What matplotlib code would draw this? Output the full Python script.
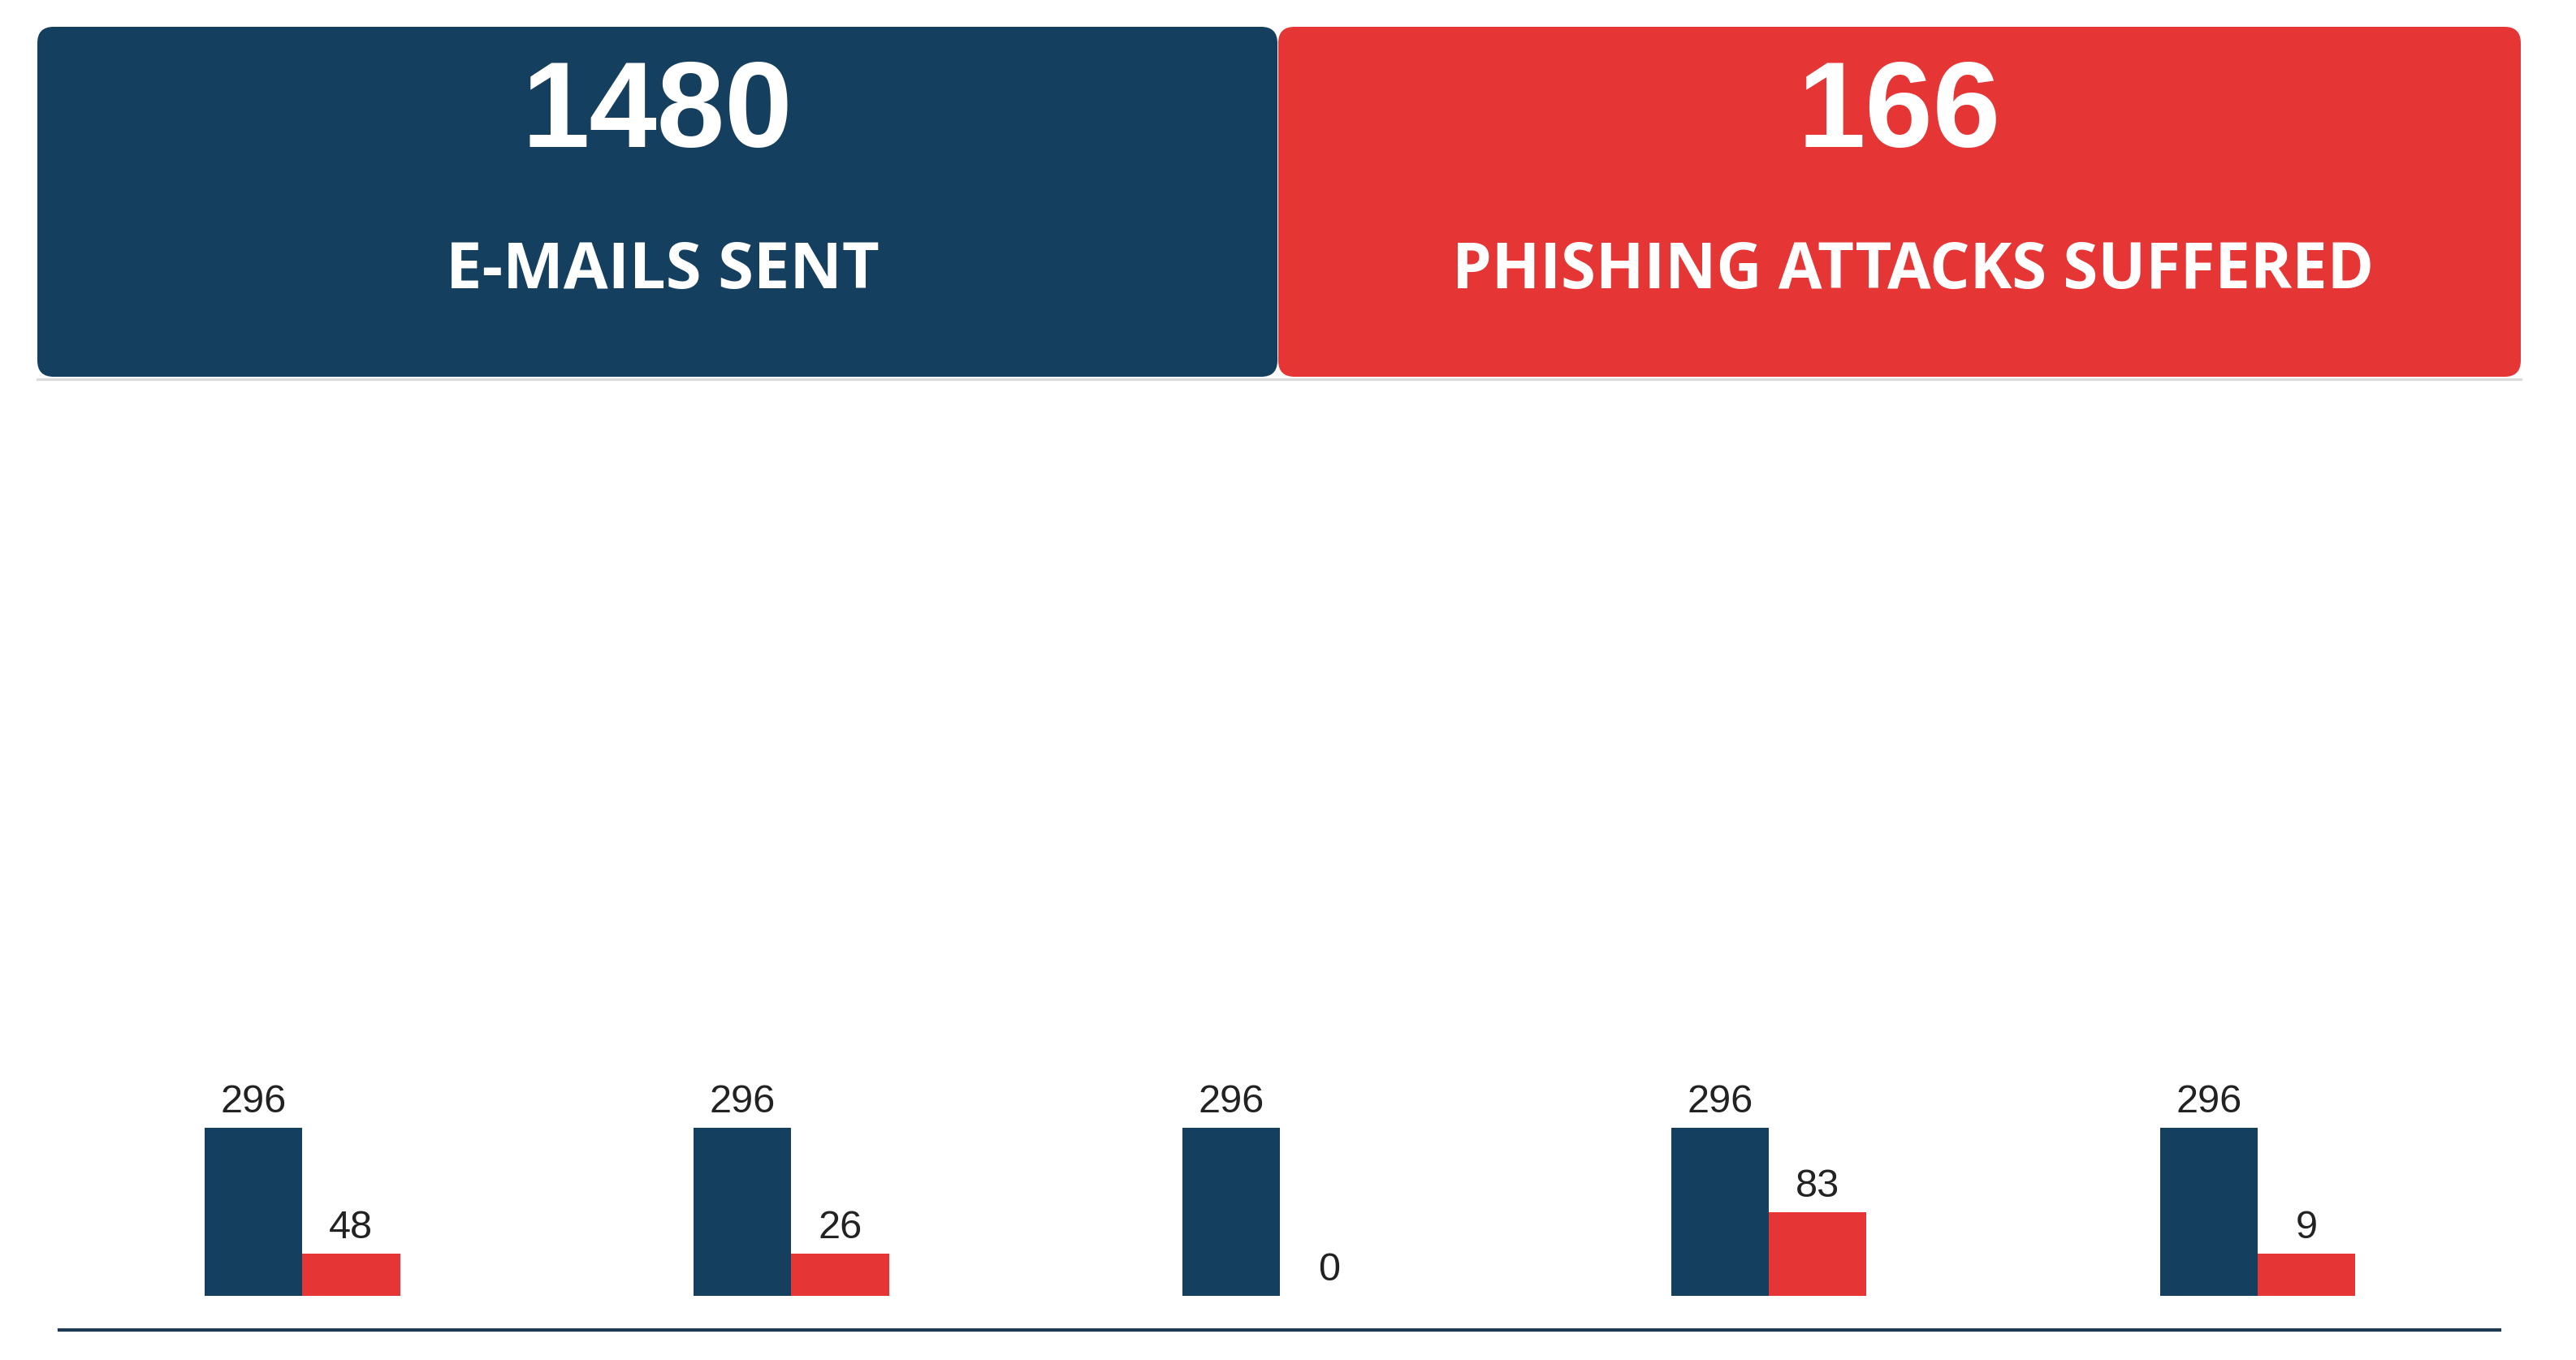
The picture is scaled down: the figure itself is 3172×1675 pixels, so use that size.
import numpy as np
import matplotlib.pyplot as plt
from matplotlib.patches import FancyBboxPatch

# data
emails_total = 1480
phishing_total = 166
card_labels = ['E-MAILS SENT', 'PHISHING ATTACKS SUFFERED']
campaigns = ['C1', 'C2', 'C3', 'C4', 'C5']
emails_sent = [296, 296, 296, 296, 296]
phishing = [48, 26, 0, 83, 9]
# bar heights as they appear in the source chart (not proportional to the labels)
phishing_drawn = [74, 74, 0, 148, 74]

navy = '#143F5F'
red = '#E63535'

W, H, DPI = 3172, 1675, 200
fig = plt.figure(figsize=(W / DPI, H / DPI), dpi=DPI)
fig.patch.set_facecolor('white')

# overlay axes in pixel units for the header cards
bg = fig.add_axes([0, 0, 1, 1])
bg.set_xlim(0, W)
bg.set_ylim(H, 0)
bg.axis('off')

# (left, right, colour, number, label, label size, label centre)
cards = [(46, 1573, navy, emails_total, card_labels[0], 28.6, 816),
         (1574, 3104, red, phishing_total, card_labels[1], 28, 2356)]
for x0, x1, col, num, lab, fs, lx in cards:
    bg.add_patch(FancyBboxPatch((x0 + 20, 33 + 20), x1 - x0 - 40, 431 - 40,
                                boxstyle='round,pad=20,rounding_size=20',
                                fc=col, ec='none'))
    xc = (x0 + x1) / 2
    bg.text(xc, 181, str(num), color='white', ha='center', va='baseline',
            fontsize=54, fontweight='bold', family='Liberation Sans')
    bg.text(lx, 355, lab, color='white', ha='center', va='baseline',
            fontsize=fs, fontweight='bold', family='Open Sans')
bg.plot([46, 3104], [467, 467], color='#dcdcdc', lw=1.2)

# bar chart
left, right, top, axis_y, base_y = 73, 3078, 500, 1638, 1596
ax = fig.add_axes([left / W, (H - axis_y) / H, (right - left) / W, (axis_y - top) / H])
px_per_unit = 207 / 296
ymin = -(axis_y - base_y) / px_per_unit
ax.set_ylim(ymin, ymin + (axis_y - top) / px_per_unit)
ax.set_xlim(-0.497, 4.495)

x = np.arange(len(campaigns))
w = 0.2
b1 = ax.bar(x - w / 2, emails_sent, w, color=navy)
b2 = ax.bar(x + w / 2, phishing_drawn, w, color=red)

for bars, vals in [(b1, emails_sent), (b2, phishing)]:
    for b, v in zip(bars, vals):
        ax.annotate(str(v), (b.get_x() + b.get_width() / 2, b.get_height()),
                    xytext=(0, 6.8), textcoords='offset points',
                    ha='center', va='baseline', fontsize=17.5,
                    family='Liberation Sans', color='#222222')

for s in ['top', 'left', 'right']:
    ax.spines[s].set_visible(False)
ax.spines['bottom'].set_color('#1d3a52')
ax.spines['bottom'].set_linewidth(1.5)
ax.set_xticks([])
ax.set_yticks([])
ax.patch.set_alpha(0)

fig.savefig('out.png', dpi=DPI, facecolor='white')
